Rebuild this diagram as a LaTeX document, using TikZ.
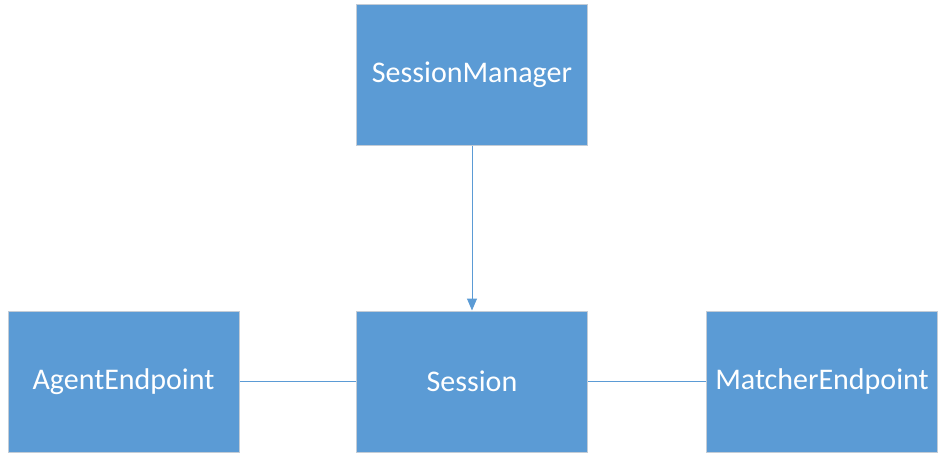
\documentclass[tikz,border=0pt]{standalone}
\usepackage{fontspec}
\setmainfont{Carlito}
\usetikzlibrary{arrows.meta}
\definecolor{boxfill}{HTML}{5B9BD5}
\definecolor{boxline}{HTML}{C3CCD6}
\definecolor{conn}{HTML}{5B9BD5}
\begin{document}
\begin{tikzpicture}[x=1pt,y=-1pt,
  classbox/.style={draw=boxline, line width=1pt, fill=boxfill, minimum width=231pt, minimum height=141pt, inner sep=0pt, text=white, font=\fontsize{30}{34}\selectfont},
  link/.style={draw=conn, line width=1pt}]
\useasboundingbox (0,0) rectangle (946,463);
\node[classbox] (mgr) at (472,74.5) {SessionManager};
\node[classbox] (agent) at (123.5,381.5) {AgentEndpoint};
\node[classbox] (sess) at (472,381.5) {Session};
\node[classbox] (match) at (822,381.5) {MatcherEndpoint};
\draw[link, -{Triangle[width=10pt,length=12pt]}] (mgr.south) -- (sess.north);
\draw[link] (agent.east) -- (sess.west);
\draw[link] (sess.east) -- (match.west);
\end{tikzpicture}
\end{document}
